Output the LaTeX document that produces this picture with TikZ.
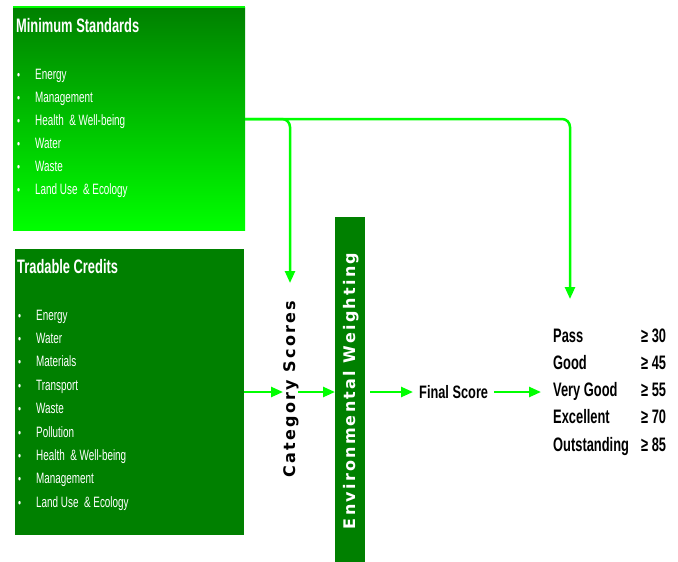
\documentclass[tikz,border=0pt]{standalone}
\usepackage{fontspec}
\setmainfont{Liberation Sans}[FakeStretch=0.66]
\newfontfamily\fsfont{Liberation Sans}[FakeStretch=0.71]
\newfontfamily\wfont{DejaVu Sans Bold}[LetterSpace=14]
\usetikzlibrary{arrows.meta}
\definecolor{dkg}{RGB}{0,128,0}
\definecolor{ltg}{RGB}{0,255,0}
\tikzset{
  box/.style={anchor=north west, inner sep=0pt, outer sep=0pt},
  ttl/.style={anchor=base west, inner sep=0pt, text=white, font=\bfseries\fontsize{19.5}{19.5}\selectfont},
  itm/.style={anchor=base west, inner sep=0pt, text=white, font=\fontsize{15}{15}\selectfont},
  bul/.style={anchor=base west, inner sep=0pt, text=white, font=\fontsize{13}{13}\selectfont},
  arr/.style={draw=ltg, line width=2.5pt, -{Triangle[length=12pt,width=10pt]}},
  rate/.style={anchor=base west, inner sep=0pt, font=\bfseries\fontsize{19.5}{19.5}\selectfont},
  vtext/.style={rotate=90, inner sep=0pt, font=\wfont\fontsize{16}{16}\selectfont}
}
\begin{document}
\begin{tikzpicture}[x=1pt,y=-1pt]
\useasboundingbox (0,0) rectangle (678,562);
% Minimum Standards box
\node[box, top color=dkg, bottom color=ltg, minimum width=232pt, minimum height=223pt] (ms) at (13,7) {};
\draw[ltg, line width=2pt] (ms.north west) -- (ms.north east);
\node[ttl] (mst) at (16,32) {Minimum Standards};
\foreach \t [count=\i] in {Energy,Management,Health \ \& Well-being,Water,Waste,Land Use \ \& Ecology}{
  \node[bul] (mb\i) at (17,{79+23.1*(\i-1)}) {\textbullet};
  \node[itm] (mi\i) at (35,{79+23.1*(\i-1)}) {\t};
}
% Tradable Credits box
\node[box, fill=dkg, minimum width=229pt, minimum height=286pt] (tc) at (15,249) {};
\node[ttl] (tct) at (17,273) {Tradable Credits};
\foreach \t [count=\i] in {Energy,Water,Materials,Transport,Waste,Pollution,Health \ \& Well-being,Management,Land Use \ \& Ecology}{
  \node[bul] (tb\i) at (18,{320+23.4*(\i-1)}) {\textbullet};
  \node[itm] (ti\i) at (36,{320+23.4*(\i-1)}) {\t};
}
% Environmental Weighting bar
\node[box, fill=dkg, minimum width=30pt, minimum height=345pt] (ew) at (335,217) {};
\node[vtext, text=white] (ewt) at (351,391) {Environmental Weighting};
% Category scores
\node[vtext, text=black] (cs) at (291,389) {Category Scores};
% Final score
\node[anchor=west, inner sep=0pt, font=\fsfont\bfseries\fontsize{18}{18}\selectfont] (fs) at (419,392) {Final Score};
% Ratings
\foreach \a/\b [count=\i] in {Pass/30,Good/45,Very Good/55,Excellent/70,Outstanding/85}{
  \node[rate] (r\i) at (553,{342+27.3*(\i-1)}) {\a};
  \node[rate] (v\i) at (641,{342+27.3*(\i-1)}) {≥ \b};
}
% connectors
\coordinate (split) at (245,119);
\coordinate (csin) at (290,283);
\coordinate (rtin) at (570,299);
\draw[arr, rounded corners=8pt] (split) -| (rtin);
\draw[arr, rounded corners=8pt] (split) -| (csin);
\coordinate (c1) at (283,392);
\coordinate (c2) at (298,392);
\coordinate (c3) at (331,392);
\coordinate (c4) at (370,392);
\coordinate (c5) at (413,392);
\coordinate (c6) at (494,392);
\coordinate (c7) at (541,392);
\draw[arr] (tc.east |- c1) -- (c1);
\draw[arr] (c2) -- (ew.west |- c3);
\draw[arr] (c4) -- (fs.west -| c5);
\draw[arr] (fs.east -| c6) -- (c7);
\end{tikzpicture}
\end{document}
